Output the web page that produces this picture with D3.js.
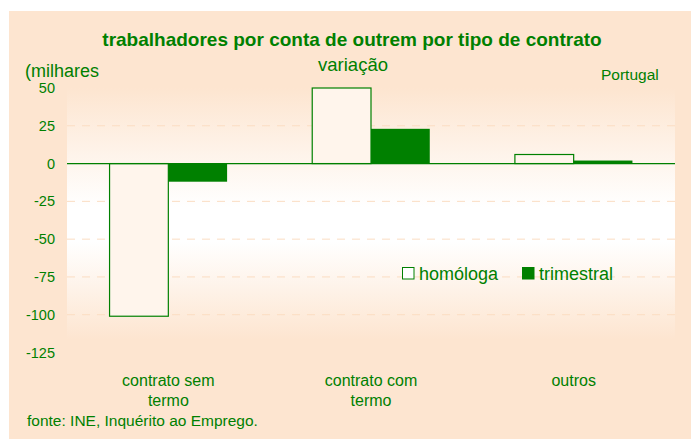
<!DOCTYPE html>
<html>
<head>
<meta charset="utf-8">
<script src="https://cdn.jsdelivr.net/npm/d3@7/dist/d3.min.js"></script>
<style>
body { margin:0; background:#fff; }
text { font-family: 'Liberation Sans', Arial, sans-serif; fill:#008000; }
</style>
</head>
<body>
<div id="container" style="width:691px;height:439px;"></div>
<script>
var width = 691, height = 439;

var categories = [['contrato sem','termo'], ['contrato com','termo'], ['outros']];
var series = ['homóloga', 'trimestral'];
var homologa = [-101, 50, 6];
var trimestral = [-12, 23, 2];
var ticks = [50, 25, 0, -25, -50, -75, -100, -125];

var green = '#008000';
var peach = '#FDE5D0';

var svg = d3.select('#container')
	.append('svg')
	.attr('width', width)
	.attr('height', height);

var defs = svg.append('defs');
var grad = defs.append('linearGradient')
	.attr('id', 'bg')
	.attr('x1', 0).attr('y1', 0).attr('x2', 0).attr('y2', 1);
grad.append('stop').attr('offset', '0%').attr('stop-color', peach);
grad.append('stop').attr('offset', '45%').attr('stop-color', '#ffffff');
grad.append('stop').attr('offset', '58%').attr('stop-color', '#ffffff');
grad.append('stop').attr('offset', '95%').attr('stop-color', peach);

// panel
svg.append('rect')
	.attr('x', 9).attr('y', 11)
	.attr('width', width - 9).attr('height', height - 11)
	.style('fill', peach);

var left = 67, right = 675;

var y = d3.scaleLinear()
	.domain([-125, 50])
	.range([352.5, 88]);

var x = d3.scaleBand()
	.domain(d3.range(categories.length))
	.range([left, right])
	.paddingInner(0.42)
	.paddingOuter(0.21);

var xs = d3.scaleBand()
	.domain(series)
	.range([0, x.bandwidth()]);

svg.append('rect')
	.attr('x', left).attr('y', y(50))
	.attr('width', right - left).attr('height', y(-125) - y(50))
	.style('fill', 'url(#bg)');

// gridlines
svg.selectAll('.grid')
	.data(ticks.filter(function(d){ return d != 0 && d > -125 && d < 50; }))
	.enter()
	.append('line')
	.attr('class', 'grid')
	.attr('x1', left).attr('x2', right)
	.attr('y1', function(d){ return y(d); })
	.attr('y2', function(d){ return y(d); })
	.style('stroke', '#FBDDC2')
	.style('stroke-width', 1)
	.style('stroke-dasharray', '8,7');

// y tick labels
svg.selectAll('.tick-label')
	.data(ticks)
	.enter()
	.append('text')
	.attr('class', 'tick-label')
	.attr('x', 55)
	.attr('y', function(d){ return y(d) + 5; })
	.attr('text-anchor', 'end')
	.style('font-size', '14.5px')
	.text(function(d){ return d; });

// bars
svg.selectAll('.bar-h')
	.data(homologa)
	.enter()
	.append('rect')
	.attr('class', 'bar-h')
	.attr('x', function(d, i){ return x(i) + xs('homóloga'); })
	.attr('y', function(d){ return y(Math.max(0, d)); })
	.attr('width', xs.bandwidth())
	.attr('height', function(d){ return Math.abs(y(d) - y(0)); })
	.style('fill', '#FFF5EC')
	.style('stroke', green)
	.style('stroke-width', 1.2);

svg.selectAll('.bar-t')
	.data(trimestral)
	.enter()
	.append('rect')
	.attr('class', 'bar-t')
	.attr('x', function(d, i){ return x(i) + xs('trimestral'); })
	.attr('y', function(d){ return y(Math.max(0, d)); })
	.attr('width', xs.bandwidth())
	.attr('height', function(d){ return Math.abs(y(d) - y(0)); })
	.style('fill', green);

// zero line
svg.append('line')
	.attr('x1', left).attr('x2', right)
	.attr('y1', y(0)).attr('y2', y(0))
	.style('stroke', green)
	.style('stroke-width', 1.2);

// category labels
categories.forEach(function(c, i){
	var t = svg.append('text')
		.attr('x', x(i) + x.bandwidth() / 2)
		.attr('y', 386)
		.attr('text-anchor', 'middle')
		.style('font-size', '16px');
	c.forEach(function(line, j){
		t.append('tspan')
			.attr('x', x(i) + x.bandwidth() / 2)
			.attr('dy', j == 0 ? 0 : 20)
			.text(line);
	});
});

// titles
svg.append('text')
	.attr('x', 352).attr('y', 46)
	.attr('text-anchor', 'middle')
	.style('font-size', '19px')
	.style('font-weight', 'bold')
	.text('trabalhadores por conta de outrem por tipo de contrato');

svg.append('text')
	.attr('x', 353).attr('y', 71)
	.attr('text-anchor', 'middle')
	.style('font-size', '18.5px')
	.text('variação');

svg.append('text')
	.attr('x', 25).attr('y', 77)
	.style('font-size', '18px')
	.text('(milhares');

svg.append('text')
	.attr('x', 601).attr('y', 80)
	.style('font-size', '15.5px')
	.text('Portugal');

svg.append('text')
	.attr('x', 27).attr('y', 426)
	.style('font-size', '15.5px')
	.text('fonte: INE, Inquérito ao Emprego.');

// legend
var legend = svg.selectAll('.legend')
	.data(series)
	.enter()
	.append('g')
	.attr('class', 'legend')
	.attr('transform', function(d, i){ return 'translate(' + (402 + i * 120) + ',267)'; });

legend.append('rect')
	.attr('x', 0.5).attr('y', 0.5)
	.attr('width', 11.5).attr('height', 11.5)
	.style('fill', function(d, i){ return i == 0 ? '#fff' : green; })
	.style('stroke', green)
	.style('stroke-width', 1);

legend.append('text')
	.attr('x', 17).attr('y', 12.5)
	.style('font-size', '18px')
	.text(function(d){ return d; });
</script>
</body>
</html>
